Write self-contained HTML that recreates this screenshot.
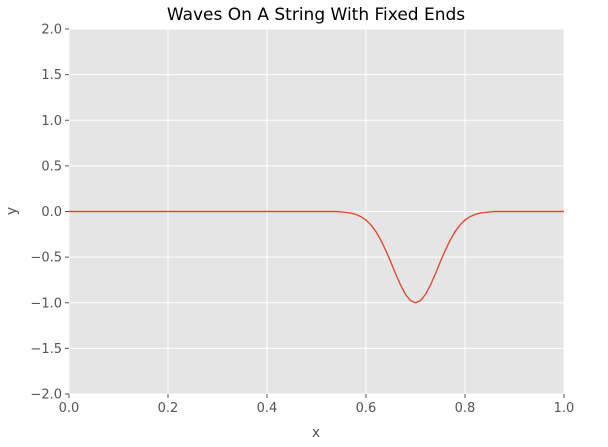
<!DOCTYPE html>
<html><head><meta charset="utf-8"><style>
body{margin:0;background:#fff;}
svg{display:block;font-family:"DejaVu Sans","Liberation Sans",sans-serif;}
</style></head><body>
<svg id="chart" width="608" height="447">
<rect x="69" y="29" width="495" height="365" fill="#e5e5e5"/>
<g id="grid"></g><g id="ticks"></g>
<path id="wave" fill="none" stroke="#e24a33" stroke-width="1.4"/>
<text x="316" y="20" text-anchor="middle" font-size="17" fill="#000">Waves On A String With Fixed Ends</text>
<text x="316" y="437" text-anchor="middle" font-size="14" fill="#555">x</text>
<text x="16" y="211" text-anchor="middle" font-size="14" fill="#555" transform="rotate(-90 16 211)">y</text>
</svg>
<script>
const xTicks=[0,0.2,0.4,0.6,0.8,1.0];
const xTickLabels=["0.0","0.2","0.4","0.6","0.8","1.0"];
const yTicks=[-2,-1.5,-1,-0.5,0,0.5,1,1.5,2];
const yTickLabels=["−2.0","−1.5","−1.0","−0.5","0.0","0.5","1.0","1.5","2.0"];
const ys=[0,0,0,0,0,0,0,0,0,0,0,0,0,0,0,0,0,0,0,0,0,0,0,0,0,0,0,0,0,0,0,0,0,0,0,0,0,0,0,0,0,0,0,0,0,0,0,0,0,0,0,0,0,0,0,
-0.005,-0.01,-0.018,-0.033,-0.057,-0.094,-0.147,-0.22,-0.314,-0.427,-0.553,-0.685,-0.808,-0.91,-0.977,-1,
-0.977,-0.91,-0.808,-0.685,-0.553,-0.427,-0.314,-0.22,-0.147,-0.094,-0.057,-0.033,-0.018,-0.01,-0.005,
0,0,0,0,0,0,0,0,0,0,0,0,0,0,0];
const X0=69,X1=564,Y0=394,Y1=29;
const sx=v=>X0+(v-0)/(1-0)*(X1-X0);
const sy=v=>Y0+(v+2)/4*(Y1-Y0);
const NS="http://www.w3.org/2000/svg";
const grid=document.getElementById('grid'),ticks=document.getElementById('ticks');
function mk(tag,attrs,parent){const e=document.createElementNS(NS,tag);for(const k in attrs)e.setAttribute(k,attrs[k]);parent.appendChild(e);return e;}
xTicks.forEach((t,i)=>{
 const l=mk('line',{x1:sx(t),x2:sx(t),y1:Y1,y2:Y0,stroke:'#fff','stroke-width':1},grid);
 
 
 const tk=mk('line',{x1:sx(t),x2:sx(t),y1:Y0,y2:Y0+4,stroke:'#555'},ticks);
 
 
 const tx=mk('text',{x:sx(t),y:Y0+18,'text-anchor':'middle','font-size':13,fill:'#555'},ticks);
 tx.textContent=xTickLabels[i];
 
 
});
yTicks.forEach((t,i)=>{
 const l=mk('line',{x1:X0,x2:X1,y1:sy(t),y2:sy(t),stroke:'#fff','stroke-width':1},grid);
 
 
 const tk=mk('line',{x1:X0-4,x2:X0,y1:sy(t),y2:sy(t),stroke:'#555'},ticks);
 
 
 const tx=mk('text',{x:X0-7,y:sy(t)+4.5,'text-anchor':'end','font-size':13,fill:'#555'},ticks);
 tx.textContent=yTickLabels[i];
 
 
});
let d='';
ys.forEach((v,i)=>{const x=i/(ys.length-1);d+=(i?'L':'M')+sx(x).toFixed(2)+','+sy(v).toFixed(2);});
document.getElementById('wave').setAttribute('d',d);
</script>
</body></html>
